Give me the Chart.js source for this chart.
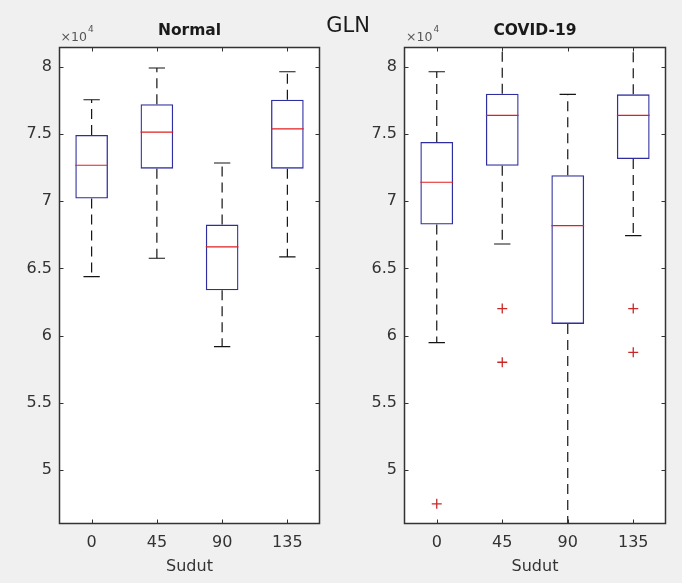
<!DOCTYPE html>
<html><head><meta charset="utf-8">
<script src="https://cdn.jsdelivr.net/npm/chart.js@4.4.1/dist/chart.umd.min.js"></script>
<style>
html,body{margin:0;padding:0;background:#f0f0f0;}
#wrap{position:relative;width:682px;height:583px;overflow:hidden;background:#f0f0f0;}
canvas{position:absolute;top:0;}
#c1{left:0;} #c2{left:341px;}
</style></head><body>
<div id="wrap"><canvas id="c1" width="682" height="583"></canvas><canvas id="c2" width="341" height="583"></canvas></div>
<script>
// ---------- data ----------
const figureTitle = 'GLN';
const categories = ['0', '45', '90', '135'];
const xLabel = 'Sudut';
const yTicks = [50000, 55000, 60000, 65000, 70000, 75000, 80000];
const yMin = 46000, yMax = 81450;
const exponentBase = '\u00d710', exponentPower = '4';

const normalTitle = 'Normal';
const normalWhiskerHigh = [77530, 79890, 72830, 79610];
const normalQ3          = [74910, 77190, 68250, 77530];
const normalMedian      = [72660, 75130, 66590, 75360];
const normalQ1          = [70190, 72410, 63370, 72410];
const normalWhiskerLow  = [64380, 65750, 59180, 65850];
const normalOutliers    = [[], [], [], []];

const covidTitle = 'COVID-19';
const covidWhiskerHigh = [79610, 83000, 77930, 83000];
const covidQ3          = [74390, 77980, 71920, 77930];
const covidMedian      = [71400, 76370, 68170, 76370];
const covidQ1          = [68250, 72630, 60870, 73130];
const covidWhiskerLow  = [59480, 66810, 44500, 67430];
const covidOutliers    = [[47500], [62010, 58020], [], [62010, 58760]];

// ---------- styling ----------
const FONT = "'DejaVu Sans', 'Liberation Sans', sans-serif";
const BOX_HALF = 0.25, CAP_HALF = 0.125;
const COL_BOX = '#2e2ea0', COL_MED = '#e02020', COL_WHISK = '#141414', COL_OUT = '#c82828';
const COL_TEXT = '#333333', COL_AXIS = '#333333';

const matlabAxes = {
  id: 'matlabAxes',
  beforeDraw(chart) {
    const {ctx, chartArea: a} = chart;
    ctx.save(); ctx.fillStyle = '#ffffff';
    ctx.fillRect(a.left, a.top, a.right - a.left, a.bottom - a.top);
    ctx.restore();
  },
  afterDraw(chart, args, opts) {
    const {ctx, chartArea: a, scales: {x, y}} = chart;
    ctx.save();
    ctx.strokeStyle = COL_AXIS; ctx.lineWidth = 1;
    const L = Math.round(a.left) + 0.5, R = Math.round(a.right) - 0.5;
    const T = Math.round(a.top) + 0.5, B = Math.round(a.bottom) - 0.5;
    ctx.beginPath();
    const tl = 4;
    yTicks.forEach(v => {
      const p = Math.round(y.getPixelForValue(v)) + 0.5;
      ctx.moveTo(L, p); ctx.lineTo(L + tl, p);
      ctx.moveTo(R, p); ctx.lineTo(R - tl, p);
    });
    categories.forEach((c, i) => {
      const p = Math.round(x.getPixelForValue(i + 1)) + 0.5;
      ctx.moveTo(p, B); ctx.lineTo(p, B - tl);
      ctx.moveTo(p, T); ctx.lineTo(p, T + tl);
    });
    ctx.stroke();
    ctx.lineWidth = 1.5;
    ctx.strokeRect(L, T, R - L, B - T);
    // exponent label
    ctx.fillStyle = '#555555';
    ctx.textBaseline = 'alphabetic'; ctx.textAlign = 'left';
    ctx.font = '12.5px ' + FONT;
    const ex = a.left + opts.expDx;
    ctx.fillText(exponentBase, ex, 41);
    const w = ctx.measureText(exponentBase).width;
    ctx.font = '9px ' + FONT;
    ctx.fillText(exponentPower, ex + w + 1, 31.5);
    if (opts.figTitle) {
      ctx.fillStyle = '#1a1a1a';
      ctx.font = '21px ' + FONT;
      ctx.textAlign = 'center'; ctx.textBaseline = 'middle';
      ctx.fillText(opts.figTitle, 348, 26.5);
    }
    ctx.restore();
  }
};

function buildDatasets(hi, q3, med, q1, lo, outs) {
  const boxes = [], medians = [], whiskers = [], caps = [], outliers = [];
  categories.forEach((c, i) => {
    const xc = i + 1;
    boxes.push({x: xc, y: [q1[i], q3[i]]});
    medians.push({x: xc - BOX_HALF, y: med[i]}, {x: xc + BOX_HALF, y: med[i]}, {x: xc, y: null});
    whiskers.push({x: xc, y: q3[i]}, {x: xc, y: hi[i]}, {x: xc, y: null},
                  {x: xc, y: q1[i]}, {x: xc, y: lo[i]}, {x: xc, y: null});
    caps.push({x: xc - CAP_HALF, y: hi[i]}, {x: xc + CAP_HALF, y: hi[i]}, {x: xc, y: null},
              {x: xc - CAP_HALF, y: lo[i]}, {x: xc + CAP_HALF, y: lo[i]}, {x: xc, y: null});
    outs[i].forEach(v => outliers.push({x: xc, y: v}));
  });
  const line = {type: 'line', pointRadius: 0, borderWidth: 1.2, tension: 0, spanGaps: false, fill: false};
  return [
    {type: 'scatter', label: 'Outliers', data: outliers, pointStyle: 'cross', pointRadius: 5,
     borderColor: COL_OUT, backgroundColor: COL_OUT, borderWidth: 1.3},
    Object.assign({label: 'Median', data: medians, borderColor: COL_MED}, line),
    Object.assign({label: 'Caps', data: caps, borderColor: COL_WHISK}, line),
    Object.assign({label: 'Whiskers', data: whiskers, borderColor: COL_WHISK, borderDash: [10, 6]}, line),
    {type: 'bar', label: 'Box', data: boxes, backgroundColor: 'rgba(0,0,0,0)', borderColor: COL_BOX,
     borderWidth: 1.3, borderSkipped: false, categoryPercentage: 1, barPercentage: 0.5, grouped: false}
  ];
}

function makeChart(id, title, datasets, yWidth, padRight, expDx, figTitle) {
  return new Chart(document.getElementById(id), {
    type: 'scatter',
    data: {datasets},
    plugins: [matlabAxes],
    options: {
      responsive: false, animation: false, events: [],
      layout: {padding: {left: 0, right: padRight, top: 0, bottom: 0}},
      plugins: {
        legend: {display: false}, tooltip: {enabled: false},
        title: {display: true, text: title, fullSize: false, color: '#1a1a1a',
                font: {family: FONT, size: 15.5, weight: 'bold'}, padding: {top: 21.7, bottom: 6.7}},
        matlabAxes: {expDx, figTitle}
      },
      scales: {
        x: {type: 'linear', min: 0.5, max: 4.5, offset: false,
            afterBuildTicks: s => { s.ticks = categories.map((c, i) => ({value: i + 1})); },
            ticks: {callback: v => categories[v - 1], color: COL_TEXT, font: {family: FONT, size: 16},
                    padding: 9, maxRotation: 0, autoSkip: false},
            grid: {display: false, drawTicks: false}, border: {display: false},
            title: {display: true, text: xLabel, color: COL_TEXT, font: {family: FONT, size: 16},
                    padding: {top: 0, bottom: 7}},
            afterFit: s => { s.height = 59; }},
        y: {type: 'linear', min: yMin, max: yMax,
            afterBuildTicks: s => { s.ticks = yTicks.map(v => ({value: v})); },
            ticks: {callback: v => String(v / 1e4), color: COL_TEXT, font: {family: FONT, size: 16},
                    padding: 7, autoSkip: false},
            grid: {display: false, drawTicks: false}, border: {display: false},
            afterFit: s => { s.width = yWidth; }}
      }
    }
  });
}

makeChart('c1', normalTitle,
  buildDatasets(normalWhiskerHigh, normalQ3, normalMedian, normalQ1, normalWhiskerLow, normalOutliers),
  59, 362, 1.5, figureTitle);
makeChart('c2', covidTitle,
  buildDatasets(covidWhiskerHigh, covidQ3, covidMedian, covidQ1, covidWhiskerLow, covidOutliers),
  63, 16, 2, null);
</script></body></html>
